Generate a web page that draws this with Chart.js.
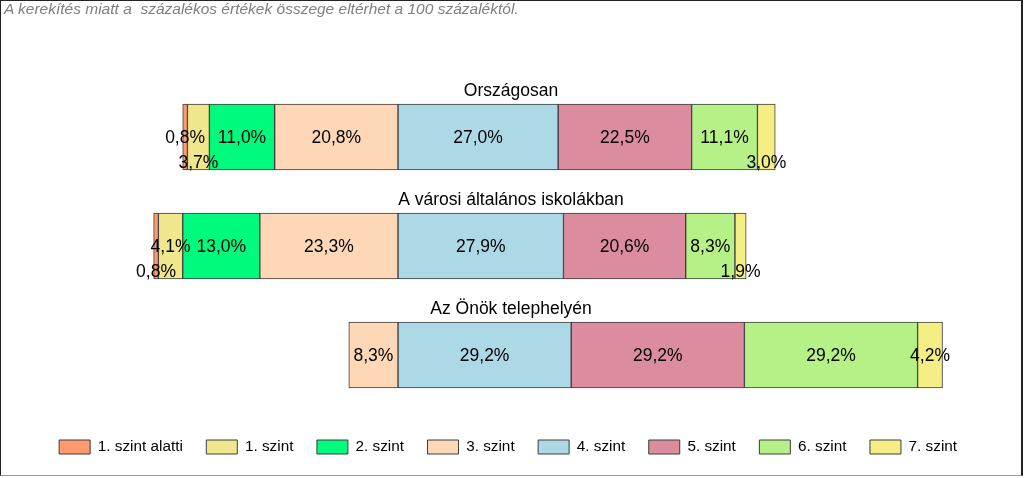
<!DOCTYPE html>
<html>
<head>
<meta charset="utf-8">
<script src="https://cdn.jsdelivr.net/npm/chart.js@4.4.0/dist/chart.umd.min.js"></script>
<style>
  html, body { margin: 0; padding: 0; background: #fff; }
  #wrap { position: relative; width: 1024px; height: 478px; overflow: hidden; }
  #chart { position: absolute; left: 0; top: 0; }
  #note { position: absolute; left: 4px; top: 0px; font: italic 15.5px "Liberation Sans", Arial, sans-serif; color: #7f7f7f; white-space: pre; }
  #frame { position: absolute; left: 0; top: 0; width: 1020px; height: 474px;
           border-left: 1px solid #222; border-top: 1px solid #222;
           border-right: 2px solid #222; border-bottom: 1px solid #999; pointer-events: none; }
</style>
</head>
<body>
<div id="wrap">
  <canvas id="chart" width="1024" height="478"></canvas>
  <div id="note">A kerekítés miatt a  százalékos értékek összege eltérhet a 100 százaléktól.</div>
  <div id="frame"></div>
</div>
<script>
// --- data ---
const groups = ['Országosan', 'A városi általános iskolákban', 'Az Önök telephelyén'];
const levels = ['1. szint alatti', '1. szint', '2. szint', '3. szint', '4. szint', '5. szint', '6. szint', '7. szint'];
const orszagosan = [0.8, 3.7, 11.0, 20.8, 27.0, 22.5, 11.1, 3.0];
const varosi     = [0.8, 4.1, 13.0, 23.3, 27.9, 20.6, 8.3, 1.9];
const telephely  = [0, 0, 0, 8.3, 29.2, 29.2, 29.2, 4.2];
const rows = [orszagosan, varosi, telephely];
const firstRight = 4; // a 4. szint kezdődik a nullánál

const fills = ['#ff9a70', '#f0e68c', '#00fa7d', '#fdd7b6', '#add8e6', '#dc8c9f', '#b5f186', '#f5ee84'];
const edge = '#3c3c3c';
const FONT = '"Liberation Sans", Arial, sans-serif';

// szakasz kezdete/vége a nulla körül
function span(row, i) {
    if (!row[i]) return null;
    let s = 0;
    if (i < firstRight) {
        for (let k = i + 1; k < firstRight; k++) s += row[k];
        return [-(s + row[i]), -s];
    }
    for (let k = firstRight; k < i; k++) s += row[k];
    return [s, s + row[i]];
}

const fmt = v => v.toFixed(1).replace('.', ',') + '%';

const datasets = levels.map((name, i) => ({
    label: name,
    data: rows.map(r => span(r, i)),
    backgroundColor: fills[i],
    borderColor: edge,
    borderWidth: 1,
    borderSkipped: false,
    barThickness: 66,
    grouped: false
}));

// csoportcímek a sávok fölött
const groupTitles = {
    id: 'groupTitles',
    afterDatasetsDraw(chart) {
        const ctx = chart.ctx;
        const y = chart.scales.y;
        ctx.save();
        ctx.font = '17.5px ' + FONT;
        ctx.fillStyle = '#000';
        ctx.textAlign = 'center';
        ctx.textBaseline = 'middle';
        groups.forEach((g, gi) => {
            ctx.fillText(g, 511, y.getPixelForValue(gi) - 33 - 13);
        });
        ctx.restore();
    }
};

// értékcímkék, ütközés esetén lejjebb tolva
const valueLabels = {
    id: 'valueLabels',
    afterDatasetsDraw(chart) {
        const ctx = chart.ctx;
        ctx.save();
        ctx.font = '17.5px ' + FONT;
        ctx.fillStyle = '#000';
        ctx.textAlign = 'center';
        ctx.textBaseline = 'middle';
        const sides = [[3, 2, 1, 0], [4, 5, 6, 7]];
        groups.forEach((g, gi) => {
            sides.forEach(order => {
                let last = null;
                order.forEach(li => {
                    const v = rows[gi][li];
                    const el = chart.getDatasetMeta(li).data[gi];
                    if (!v || !el) return;
                    const text = fmt(v);
                    const w = ctx.measureText(text).width;
                    const cx = (el.x + el.base) / 2;
                    const l = cx - w / 2, r = cx + w / 2;
                    const lower = last && l < last.r + 2 && r > last.l - 2;
                    if (!lower) last = { l, r };
                    ctx.fillText(text, cx, el.y + 1.5 + (lower ? 24.5 : 0));
                });
            });
        });
        ctx.restore();
    }
};

new Chart(document.getElementById('chart'), {
    type: 'bar',
    data: { labels: groups, datasets: datasets },
    options: {
        indexAxis: 'y',
        responsive: false,
        animation: false,
        layout: { padding: { left: 33.6, right: 41.4, top: 82.5, bottom: 13.35 } },
        scales: {
            x: {
                min: -61.44, max: 98.56,
                grid: { display: false },
                border: { display: false },
                ticks: { display: false },
                afterFit: s => { s.height = 6.35; }
            },
            y: { display: false }
        },
        plugins: {
            legend: {
                position: 'bottom',
                labels: {
                    boxWidth: 31,
                    boxHeight: 14,
                    padding: 23.5,
                    color: '#000',
                    font: { family: FONT, size: 15.3 }
                }
            },
            tooltip: { enabled: false }
        }
    },
    plugins: [groupTitles, valueLabels]
});
</script>
</body>
</html>
